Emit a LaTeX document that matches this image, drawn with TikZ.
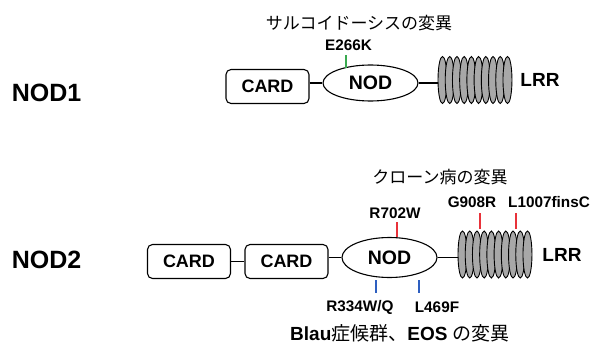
\documentclass[tikz,border=0pt]{standalone}
\usepackage{fontspec}
\setmainfont{Liberation Sans}
\newfontfamily\jpfont{Noto Sans CJK JP}
\newfontfamily\latinbold{Liberation Sans Bold}
\usetikzlibrary{shapes.geometric}
\definecolor{lrrgray}{HTML}{A8A8A8}
\definecolor{mutred}{HTML}{E8323A}
\definecolor{mutgreen}{HTML}{3AAA50}
\definecolor{mutblue}{HTML}{2E5FC0}
\begin{document}
\begin{tikzpicture}[x=1pt,y=-1pt,
  cardbox/.style={draw, line width=1.1pt, rounded corners=5pt, minimum width=83pt, minimum height=34pt, inner sep=0pt, font=\fontsize{18}{18}\selectfont\bfseries},
  nodell/.style={draw, ellipse, line width=1.1pt, minimum width=95pt, minimum height=36pt, inner sep=0pt, font=\fontsize{19.5}{19.5}\selectfont\bfseries},
  lrrbox/.style={minimum width=74pt, minimum height=47pt, inner sep=0pt},
  lrrell/.style={draw, line width=0.9pt, fill=lrrgray},
  link/.style={line width=1.8pt},
  ticklab/.style={font=\fontsize{15.3}{15.3}\selectfont\bfseries, inner sep=0pt},
  jplab/.style={font=\fontsize{17}{17}\selectfont\jpfont, inner sep=0pt},
  biglab/.style={font=\fontsize{25}{25}\selectfont\bfseries, inner sep=0pt},
  lrrlab/.style={font=\fontsize{19}{19}\selectfont\bfseries, inner sep=0pt},
  tick/.style={line width=2.6pt}
]
\useasboundingbox (0,0) rectangle (592,343);

% ---------- NOD1 ----------
\node[biglab] (nod1lab) at (46.5,93) {NOD1};
\node[cardbox] (c11) at (267.5,86.5) {CARD};
\node[nodell] (n1) at (370.5,83) {NOD};
\node[lrrbox] (l1) at (475,80) {};
\foreach \i in {0,...,9} \draw[lrrell] (442.5+\i*7.22,80) ellipse (4.5 and 23.5);
\draw[link] (c11.east |- n1.west) -- (n1.west);
\draw[link] (n1.east) -- (n1.east -| l1.west);
\node[lrrlab] (lrr1) at (540,80) {LRR};
\node[jplab] (sarc) at (359,23) {サルコイドーシスの変異};
\node[ticklab] (e266k) at (348.5,45) {E266K};
\coordinate (g1a) at (346,55);
\coordinate (g1b) at (346,68);
\draw[tick, mutgreen] (g1a) -- (g1b);

% ---------- NOD2 ----------
\node[biglab] (nod2lab) at (46.5,260) {NOD2};
\node[cardbox] (c21) at (189,261.5) {CARD};
\node[cardbox] (c22) at (286.5,261.5) {CARD};
\node[nodell, minimum height=40pt] (n2) at (389.5,257.5) {NOD};
\node[lrrbox] (l2) at (495,254.5) {};
\foreach \i in {0,...,9} \draw[lrrell] (462.5+\i*7.22,254.5) ellipse (4.5 and 23.5);
\draw[link] (c21.east) -- (c22.west);
\draw[link] (c22.east |- n2.west) -- (n2.west);
\draw[link] (n2.east) -- (n2.east -| l2.west);
\node[lrrlab] (lrr2) at (562,255) {LRR};

\node[jplab] (crohn) at (440,177) {クローン病の変異};
\node[ticklab] (r702w) at (395,213) {R702W};
\node[ticklab] (g908r) at (472,202) {G908R};
\node[ticklab] (l1007) at (549,202) {L1007finsC};
\coordinate (r1a) at (397,222);
\coordinate (r1b) at (397,237);
\coordinate (r2a) at (480,213);
\coordinate (r2b) at (480,229);
\coordinate (r3a) at (516,213);
\coordinate (r3b) at (516,229);
\draw[tick, mutred] (r1a) -- (r1b);
\draw[tick, mutred] (r2a) -- (r2b);
\draw[tick, mutred] (r3a) -- (r3b);

\coordinate (b1a) at (376,280);
\coordinate (b1b) at (376,293);
\coordinate (b2a) at (419,280);
\coordinate (b2b) at (419,293);
\draw[tick, mutblue] (b1a) -- (b1b);
\draw[tick, mutblue] (b2a) -- (b2b);
\node[ticklab] (r334) at (360,307) {R334W/Q};
\node[ticklab] (l469) at (437,307) {L469F};
\node[font=\fontsize{19}{19}\selectfont, inner sep=0pt] (blau) at (400,333) {{\latinbold Blau}{\jpfont 症候群、}{\latinbold EOS} {\jpfont の変異}};
\end{tikzpicture}
\end{document}
